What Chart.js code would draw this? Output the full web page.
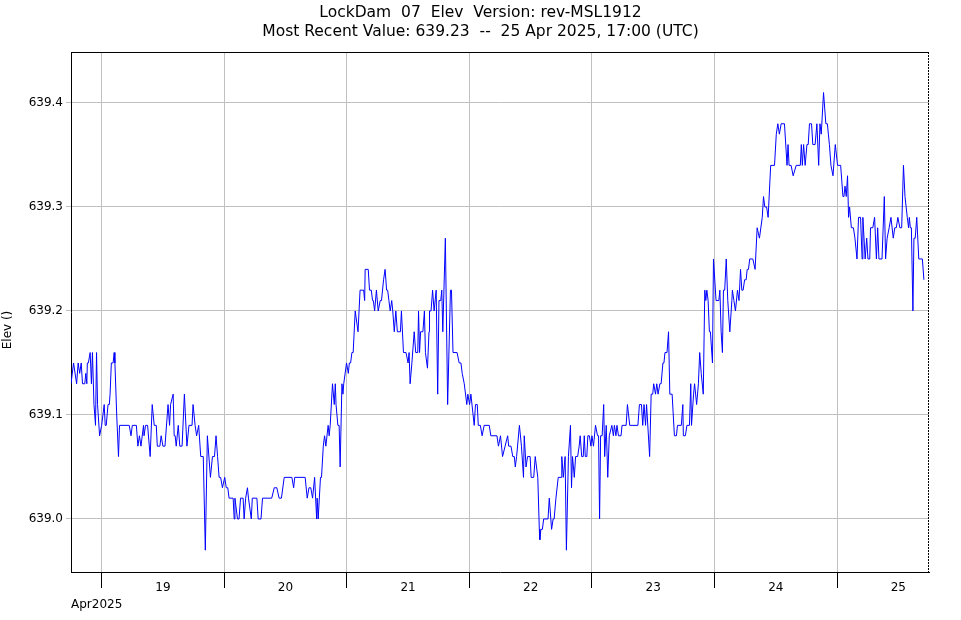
<!DOCTYPE html>
<html>
<head>
<meta charset="utf-8">
<title>LockDam 07 Elev</title>
<script src="https://cdn.jsdelivr.net/npm/chart.js@4.4.0/dist/chart.umd.min.js"></script>
<style>
    body { margin: 0; background: #ffffff; }
    #wrap { width: 961px; height: 620px; }
</style>
</head>
<body>
<div id="wrap"><canvas id="elevChart"></canvas></div>
<script>
// readings, hours after 19 Apr 2025 00:00 UTC
var hours = [
    -6.0, -5.5, -4.9, -4.6, -4.3, -4.0, -3.75, -3.3, -3.1, -2.9, -2.8, -2.6, -2.25, -2.0, -1.8, -1.5, -1.2, -1.0, -0.8, -0.4,
    0.0, 0.5, 0.7, 0.9, 1.25, 1.5, 1.65, 1.9, 2.25, 2.45, 2.6, 2.95, 3.3, 3.5, 5.4, 5.75, 6.0, 6.8, 7.1, 7.4,
    7.7, 8.2, 8.3, 8.6, 9.0, 9.5, 9.9, 10.3, 10.7, 10.9, 11.4, 11.65, 12.0, 12.4, 13.0, 13.3, 13.5, 14.0, 14.2, 14.4,
    14.6, 15.0, 15.3, 15.75, 16.2, 16.7, 17.1, 17.7, 17.9, 18.3, 18.6, 19.0, 19.4, 19.9, 20.3, 20.7, 21.3, 21.7, 22.1, 22.4,
    22.7, 23.0, 23.3, 23.65, 24.1, 24.4, 24.7, 24.95, 25.75, 25.95, 26.1, 26.6, 26.9, 27.2, 27.7, 27.9, 28.2, 28.55, 28.75, 29.3,
    29.5, 30.4, 30.65, 31.2, 31.5, 33.3, 33.8, 34.3, 34.75, 35.2, 35.75, 37.25, 37.6, 37.8, 39.85, 40.25, 40.6, 40.95, 41.3, 41.7,
    42.1, 42.2, 42.4, 42.85, 43.05, 43.4, 43.65, 43.9, 44.35, 44.55, 44.75, 45.2, 45.55, 45.75, 45.9, 46.25, 46.5, 46.7, 47.05, 47.25,
    47.4, 47.95, 48.3, 48.5, 48.75, 49.0, 49.25, 49.65, 50.2, 50.6, 51.3, 51.5, 51.6, 52.2, 52.45, 52.8, 53.05, 53.2, 53.45, 53.8,
    53.9, 54.15, 54.55, 54.8, 55.2, 55.5, 55.8, 56.0, 56.25, 56.5, 56.8, 57.0, 57.3, 57.6, 57.9, 58.5, 58.7, 59.1, 59.6, 60.0,
    60.2, 60.4, 60.75, 61.2, 61.5, 61.9, 62.05, 62.25, 62.45, 62.9, 63.2, 63.4, 63.8, 64.1, 64.2, 64.5, 64.8, 65.1, 65.5, 65.8,
    66.05, 66.4, 66.6, 66.8, 67.3, 67.75, 68.3, 68.5, 68.8, 69.6, 70.0, 70.35, 70.6, 71.0, 71.5, 71.7, 72.05, 72.3, 72.95, 73.2,
    73.55, 73.75, 74.15, 74.5, 74.9, 75.9, 76.2, 77.4, 77.7, 78.1, 78.5, 79.0, 79.5, 79.7, 80.15, 80.5, 80.8, 81.0, 81.25, 81.8,
    82.2, 82.6, 82.75, 83.1, 83.4, 83.9, 84.1, 84.6, 84.9, 85.4, 85.7, 85.8, 86.0, 86.3, 86.55, 87.4, 87.65, 88.1, 88.4, 88.6,
    88.95, 89.4, 89.95, 90.1, 90.4, 90.75, 91.0, 91.4, 91.8, 92.0, 92.2, 92.55, 92.8, 93.2, 93.5, 93.7, 94.0, 94.3, 94.5, 94.7,
    95.0, 95.2, 95.5, 95.8, 96.0, 96.3, 96.7, 97.1, 97.3, 97.5, 97.7, 98.0, 98.3, 98.5, 98.8, 99.1, 99.4, 99.9, 100.2, 100.4,
    100.7, 100.9, 101.2, 101.7, 101.9, 102.7, 102.95, 103.4, 105.0, 105.3, 105.7, 105.95, 106.2, 106.5, 106.7, 107.3, 107.6, 107.9, 108.1, 108.45,
    108.7, 108.95, 109.3, 109.55, 109.9, 110.1, 110.3, 110.7, 111.0, 111.25, 111.7, 112.15, 112.55, 112.75, 113.5, 113.8, 113.9, 114.3, 114.6, 115.1,
    115.35, 115.5, 115.9, 116.1, 116.5, 116.85, 117.1, 117.4, 117.8, 118.1, 118.3, 118.5, 118.75, 119.0, 119.2, 119.6, 119.8, 120.3, 120.85, 121.05,
    121.3, 121.55, 121.75, 122.0, 122.3, 122.6, 123.0, 123.4, 123.5, 123.8, 124.1, 124.5, 124.8, 125.1, 125.35, 125.6, 125.9, 126.2, 126.4, 126.65,
    126.9, 127.5, 127.95, 128.35, 128.8, 129.35, 129.6, 129.85, 130.2, 130.5, 131.0, 131.75, 132.1, 132.4, 132.7, 133.05, 133.7, 134.2, 134.4, 134.6,
    135.0, 135.4, 136.0, 136.8, 137.0, 137.2, 137.45, 137.75, 138.1, 138.35, 138.6, 139.0, 139.25, 139.7, 140.05, 140.4, 140.65, 140.9, 141.35, 141.8,
    142.1, 142.3, 142.5, 142.8, 143.2, 143.65, 144.1, 144.7, 145.15, 145.35, 145.55, 145.8, 146.05, 146.25, 146.45, 146.8, 147.2, 147.5, 147.9, 148.2,
    148.6, 148.9, 149.05, 149.5, 149.8, 150.05, 150.4, 150.55, 151.0, 151.35, 151.7, 151.95, 152.2, 152.8, 153.25, 153.5, 153.8, 154.2, 154.55, 155.0,
    155.3, 155.6, 155.9, 156.3, 156.65, 157.0, 157.3, 157.75, 158.0, 158.15, 158.35, 158.55, 158.85, 159.05, 159.3, 159.6, 160.0, 160.7, 161.0
];
var elev = [
    639.13, 639.15, 639.13, 639.15, 639.14, 639.15, 639.13, 639.13, 639.14, 639.13, 639.15, 639.15, 639.16, 639.13, 639.16, 639.11, 639.09, 639.16, 639.11, 639.08,
    639.09, 639.11, 639.09, 639.09, 639.11, 639.11, 639.12, 639.15, 639.15, 639.16, 639.15, 639.10, 639.06, 639.09, 639.09, 639.08, 639.09, 639.09, 639.07, 639.08,
    639.07, 639.09, 639.08, 639.09, 639.09, 639.06, 639.11, 639.09, 639.09, 639.07, 639.07, 639.08, 639.07, 639.07, 639.11, 639.09, 639.11, 639.12, 639.08, 639.08,
    639.07, 639.09, 639.07, 639.07, 639.12, 639.07, 639.09, 639.09, 639.11, 639.09, 639.08, 639.09, 639.06, 639.06, 638.97, 639.08, 639.04, 639.06, 639.06, 639.08,
    639.06, 639.04, 639.04, 639.03, 639.04, 639.03, 639.03, 639.02, 639.02, 639.00, 639.02, 639.00, 639.00, 639.02, 639.02, 639.00, 639.02, 639.03, 639.02, 639.00,
    639.02, 639.02, 639.00, 639.00, 639.02, 639.02, 639.03, 639.03, 639.02, 639.02, 639.04, 639.04, 639.03, 639.04, 639.04, 639.02, 639.03, 639.03, 639.02, 639.04,
    639.00, 639.02, 639.00, 639.04, 639.04, 639.07, 639.08, 639.07, 639.09, 639.08, 639.09, 639.13, 639.11, 639.13, 639.11, 639.09, 639.09, 639.05, 639.13, 639.12,
    639.13, 639.15, 639.14, 639.15, 639.15, 639.16, 639.16, 639.20, 639.18, 639.22, 639.22, 639.21, 639.24, 639.24, 639.22, 639.22, 639.21, 639.21, 639.20, 639.22,
    639.22, 639.20, 639.21, 639.21, 639.23, 639.24, 639.22, 639.22, 639.21, 639.20, 639.21, 639.20, 639.18, 639.20, 639.18, 639.18, 639.20, 639.16, 639.16, 639.15,
    639.16, 639.13, 639.15, 639.18, 639.16, 639.16, 639.20, 639.16, 639.18, 639.18, 639.20, 639.16, 639.145, 639.18, 639.20, 639.20, 639.22, 639.20, 639.22, 639.12,
    639.21, 639.21, 639.22, 639.18, 639.27, 639.11, 639.22, 639.22, 639.16, 639.16, 639.15, 639.15, 639.14, 639.13, 639.11, 639.12, 639.11, 639.12, 639.09, 639.11,
    639.11, 639.09, 639.09, 639.08, 639.09, 639.09, 639.08, 639.08, 639.07, 639.08, 639.06, 639.07, 639.08, 639.07, 639.07, 639.06, 639.06, 639.05, 639.06, 639.09,
    639.07, 639.04, 639.08, 639.05, 639.06, 639.06, 639.04, 639.04, 639.06, 639.04, 638.99, 638.98, 638.99, 638.99, 639.00, 639.00, 639.02, 638.99, 639.00, 639.00,
    639.02, 639.04, 639.04, 639.06, 639.04, 639.06, 638.97, 639.06, 639.09, 639.03, 639.06, 639.04, 639.06, 639.06, 639.07, 639.08, 639.06, 639.06, 639.08, 639.06,
    639.06, 639.08, 639.08, 639.07, 639.08, 639.07, 639.09, 639.08, 639.08, 639.00, 639.08, 639.08, 639.11, 639.06, 639.09, 639.04, 639.08, 639.09, 639.08, 639.09,
    639.08, 639.09, 639.08, 639.08, 639.09, 639.09, 639.11, 639.09, 639.09, 639.11, 639.11, 639.09, 639.11, 639.09, 639.11, 639.06, 639.12, 639.12, 639.13, 639.12,
    639.13, 639.12, 639.13, 639.13, 639.15, 639.15, 639.16, 639.16, 639.18, 639.12, 639.12, 639.08, 639.08, 639.09, 639.09, 639.11, 639.08, 639.08, 639.09, 639.09,
    639.13, 639.09, 639.12, 639.13, 639.11, 639.13, 639.16, 639.14, 639.12, 639.22, 639.21, 639.22, 639.21, 639.18, 639.18, 639.15, 639.25, 639.21, 639.21, 639.22,
    639.18, 639.16, 639.22, 639.22, 639.25, 639.21, 639.18, 639.21, 639.22, 639.21, 639.20, 639.22, 639.21, 639.24, 639.22, 639.22, 639.23, 639.23, 639.24, 639.24,
    639.25, 639.25, 639.24, 639.28, 639.27, 639.29, 639.31, 639.30, 639.30, 639.29, 639.34, 639.34, 639.37, 639.38, 639.37, 639.38, 639.38, 639.34, 639.36, 639.34,
    639.34, 639.33, 639.34, 639.34, 639.36, 639.34, 639.36, 639.34, 639.36, 639.36, 639.38, 639.38, 639.36, 639.36, 639.38, 639.34, 639.38, 639.37, 639.41, 639.38,
    639.38, 639.37, 639.36, 639.34, 639.33, 639.36, 639.34, 639.34, 639.31, 639.31, 639.32, 639.31, 639.33, 639.29, 639.30, 639.28, 639.28, 639.27, 639.25, 639.29,
    639.29, 639.25, 639.29, 639.25, 639.27, 639.25, 639.25, 639.28, 639.28, 639.29, 639.25, 639.28, 639.25, 639.25, 639.31, 639.25, 639.27, 639.28, 639.29, 639.27,
    639.28, 639.28, 639.29, 639.28, 639.28, 639.34, 639.31, 639.29, 639.28, 639.29, 639.28, 639.28, 639.20, 639.27, 639.27, 639.29, 639.25, 639.25, 639.23
];

var dayStarts = [0, 24, 48, 72, 96, 120, 144];
var dayLabels = ['19', '20', '21', '22', '23', '24', '25'];
var yTicks = [639.0, 639.1, 639.2, 639.3, 639.4];
var titleLines = [
    'LockDam  07  Elev  Version: rev-MSL1912',
    'Most Recent Value: 639.23  --  25 Apr 2025, 17:00 (UTC)'
];
var monthLabel = 'Apr2025';
var yTitle = 'Elev ()';

var gridGray = '#c0c0c0';
var font = 'DejaVu Sans';

var points = hours.map(function(h, i) {
    return { x: h, y: elev[i] };
});

// day boundaries get a grid line, day middles carry the label
var xTicks = [];
dayStarts.forEach(function(d) {
    xTicks.push({ value: d });
    xTicks.push({ value: d + 12 });
});

function isDayStart(v) {
    return v % 24 === 0;
}

var framePlugin = {
    id: 'frame',
    afterDraw: function(chart) {
        var ctx = chart.ctx;
        var a = chart.chartArea;
        ctx.save();
        ctx.strokeStyle = '#000000';
        ctx.lineWidth = 1;
        ctx.beginPath();
        ctx.moveTo(a.left, a.top + 0.5);
        ctx.lineTo(a.right, a.top + 0.5);
        ctx.stroke();

        // dotted right edge
        ctx.setLineDash([2, 1]);
        ctx.beginPath();
        ctx.moveTo(a.right - 0.5, a.top);
        ctx.lineTo(a.right - 0.5, a.bottom);
        ctx.stroke();
        ctx.setLineDash([]);

        ctx.fillStyle = '#000000';
        ctx.font = '12px "' + font + '"';
        ctx.textAlign = 'left';
        ctx.textBaseline = 'alphabetic';
        ctx.fillText(monthLabel, a.left, 608);

        ctx.translate(8, 330);
        ctx.rotate(-Math.PI / 2);
        ctx.textAlign = 'center';
        ctx.textBaseline = 'middle';
        ctx.fillText(yTitle, 0, 0);
        ctx.restore();
    }
};

var chart = new Chart(document.getElementById('elevChart'), {
    type: 'line',
    data: {
        datasets: [{
            data: points,
            borderColor: '#0000ff',
            borderWidth: 1,
            pointRadius: 0,
            tension: 0,
            fill: false
        }]
    },
    options: {
        responsive: true,
        maintainAspectRatio: false,
        animation: false,
        devicePixelRatio: 1,
        layout: { padding: 0 },
        plugins: {
            legend: { display: false },
            tooltip: { enabled: false },
            title: {
                display: true,
                text: titleLines,
                color: '#000000',
                font: { family: font, size: 15.5, weight: 'normal', lineHeight: '19px' },
                padding: { top: 3, bottom: 11 }
            }
        },
        scales: {
            x: {
                type: 'linear',
                min: -6,
                max: 162,
                afterBuildTicks: function(axis) {
                    axis.ticks = xTicks.map(function(t) { return { value: t.value }; });
                },
                afterFit: function(axis) {
                    axis.height = 48;
                },
                ticks: {
                    autoSkip: false,
                    maxRotation: 0,
                    padding: -7,
                    color: '#000000',
                    font: { family: font, size: 12 },
                    callback: function(v) {
                        if (isDayStart(v)) return '';
                        return dayLabels[(v - 12) / 24];
                    }
                },
                grid: {
                    color: function(c) { return c.tick && isDayStart(c.tick.value) ? gridGray : 'rgba(0,0,0,0)'; },
                    tickColor: function(c) { return c.tick && isDayStart(c.tick.value) ? '#000000' : 'rgba(0,0,0,0)'; },
                    tickLength: 16,
                    lineWidth: 1
                },
                border: { color: '#000000', width: 1 }
            },
            y: {
                type: 'linear',
                min: 638.949,
                max: 639.449,
                afterBuildTicks: function(axis) {
                    axis.ticks = yTicks.map(function(v) { return { value: v }; });
                },
                afterFit: function(axis) {
                    axis.width = 71;
                },
                ticks: {
                    padding: 3,
                    color: '#000000',
                    font: { family: font, size: 12 },
                    callback: function(v) { return v.toFixed(1); }
                },
                grid: {
                    color: gridGray,
                    tickColor: gridGray,
                    tickLength: 5,
                    lineWidth: 1
                },
                border: { color: '#000000', width: 1 }
            },
            // empty right axis, only keeps the right margin
            yRight: {
                type: 'linear',
                position: 'right',
                display: true,
                afterFit: function(axis) {
                    axis.width = 32;
                },
                ticks: { display: false },
                grid: { display: false, drawTicks: false },
                border: { display: false }
            }
        }
    },
    plugins: [framePlugin]
});
</script>
</body>
</html>
